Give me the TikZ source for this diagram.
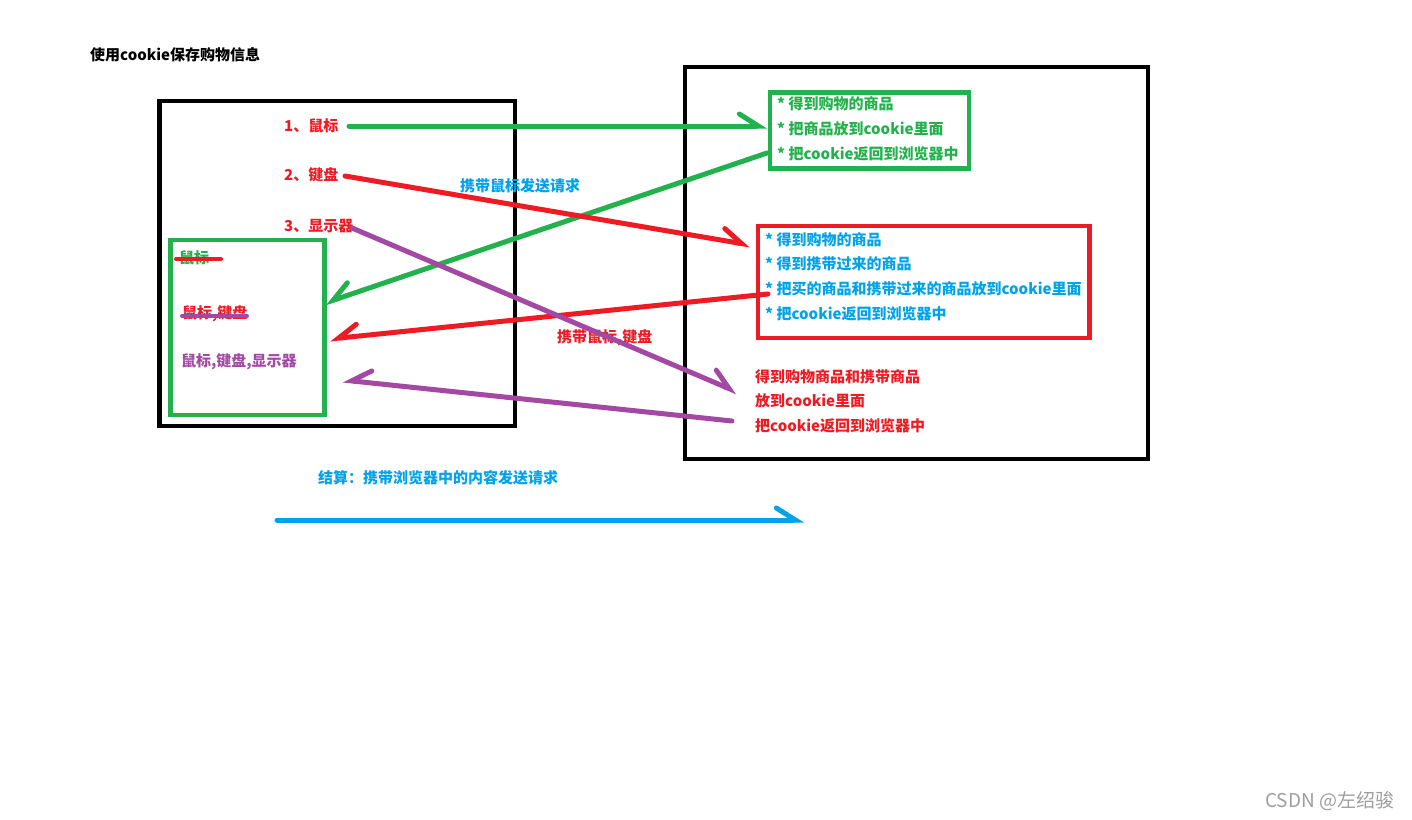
\documentclass[tikz,border=0pt]{standalone}
\usepackage{fontspec}
\setmainfont{Noto Sans CJK SC}
\usetikzlibrary{arrows.meta}
\definecolor{pred}{HTML}{ED1C24}
\definecolor{pgreen}{HTML}{22B14C}
\definecolor{ppurple}{HTML}{A349A4}
\definecolor{pblue}{HTML}{00A2E8}
\begin{document}
\begin{tikzpicture}[x=1pt,y=1pt,
  txt/.style={anchor=west,inner sep=0pt,font=\bfseries\fontsize{15}{15}\selectfont},
  frame/.style={line width=4.5pt},
  conn/.style={line width=5pt,line cap=round,-{Straight Barb[harpoon,length=19pt,width=24pt,line cap=round]}},
  connsw/.style={line width=5pt,line cap=round,-{Straight Barb[harpoon,swap,length=19pt,width=24pt,line cap=round]}},
  strike/.style={line width=4pt,line cap=round}]
\useasboundingbox (0,0) rectangle (1412,-819);
\fill[white] (0,0) rectangle (1412,-819);
% frames
\draw[frame,black] (159.5,-101) rectangle (515,-426);
\draw[frame,black] (685,-67) rectangle (1148,-459);
\draw[frame,pgreen] (769.8,-92.5) rectangle (969,-168.5);
\draw[frame,pred] (758,-226) rectangle (1089.5,-338);
\draw[frame,pgreen] (170.5,-240) rectangle (324.5,-415);
% title
\node[txt,black] (title) at (90,-55) {使用cookie保存购物信息};
% left items
\node[txt,pred] (i1) at (284,-126) {1、鼠标};
\node[txt,pred] (i2) at (284,-175) {2、键盘};
\node[txt,pred] (i3) at (284,-226) {3、显示器};
% left box contents
\node[txt,pgreen] (c1) at (179,-258) {鼠标};
\node[txt,pred] (c2) at (182,-314) {鼠标,键盘};
\node[txt,ppurple] (c3) at (181,-362) {鼠标,键盘,显示器};
\coordinate (s1a) at (176,-259); \coordinate (s1b) at (221,-259);
\coordinate (s2a) at (182,-316); \coordinate (s2b) at (247,-316);
\draw[strike,pred] (s1a) -- (s1b);
\draw[strike,ppurple] (s2a) -- (s2b);
% top green box
\node[txt,pgreen] (g1) at (777,-104) {* 得到购物的商品};
\node[txt,pgreen] (g2) at (777,-129) {* 把商品放到cookie里面};
\node[txt,pgreen] (g3) at (777,-154) {* 把cookie返回到浏览器中};
% red box
\node[txt,pblue] (r1) at (765,-240) {* 得到购物的商品};
\node[txt,pblue] (r2) at (765,-264) {* 得到携带过来的商品};
\node[txt,pblue] (r3) at (765,-289) {* 把买的商品和携带过来的商品放到cookie里面};
\node[txt,pblue] (r4) at (765,-314) {* 把cookie返回到浏览器中};
% red lines bottom
\node[txt,pred] (b1) at (755,-377) {得到购物商品和携带商品};
\node[txt,pred] (b2) at (755,-401) {放到cookie里面};
\node[txt,pred] (b3) at (755,-426) {把cookie返回到浏览器中};
% labels
\node[txt,pblue] (l1) at (460,-186) {携带鼠标发送请求};
\node[txt,pred] (l2) at (557,-338) {携带鼠标,键盘};
\node[txt,pblue] (l3) at (318,-478) {结算：携带浏览器中的内容发送请求};
\node[anchor=west,inner sep=0pt,font=\fontsize{19}{19}\selectfont,color=black!38] (wm) at (1265,-801) {CSDN @左绍骏};
% connector end points
\coordinate (a1s) at (349,-126); \coordinate (a1e) at (767,-126);
\coordinate (a2s) at (767,-153); \coordinate (a2e) at (325,-303);
\coordinate (a3s) at (345,-176); \coordinate (a3e) at (750,-245);
\coordinate (a4s) at (768,-294); \coordinate (a4e) at (330,-339);
\coordinate (a5s) at (352,-228); \coordinate (a5e) at (737,-392);
\coordinate (a6s) at (732,-421); \coordinate (a6e) at (343,-380);
\coordinate (a7s) at (277,-520); \coordinate (a7e) at (804,-520);
\draw[conn,pgreen] (a1s) -- (a1e);
\draw[connsw,pgreen] (a2s) -- (a2e);
\draw[conn,pred] (a3s) -- (a3e);
\draw[connsw,pred] (a4s) -- (a4e);
\draw[conn,ppurple] (a5s) -- (a5e);
\draw[connsw,ppurple] (a6s) -- (a6e);
\draw[conn,pblue] (a7s) -- (a7e);
\end{tikzpicture}
\end{document}
